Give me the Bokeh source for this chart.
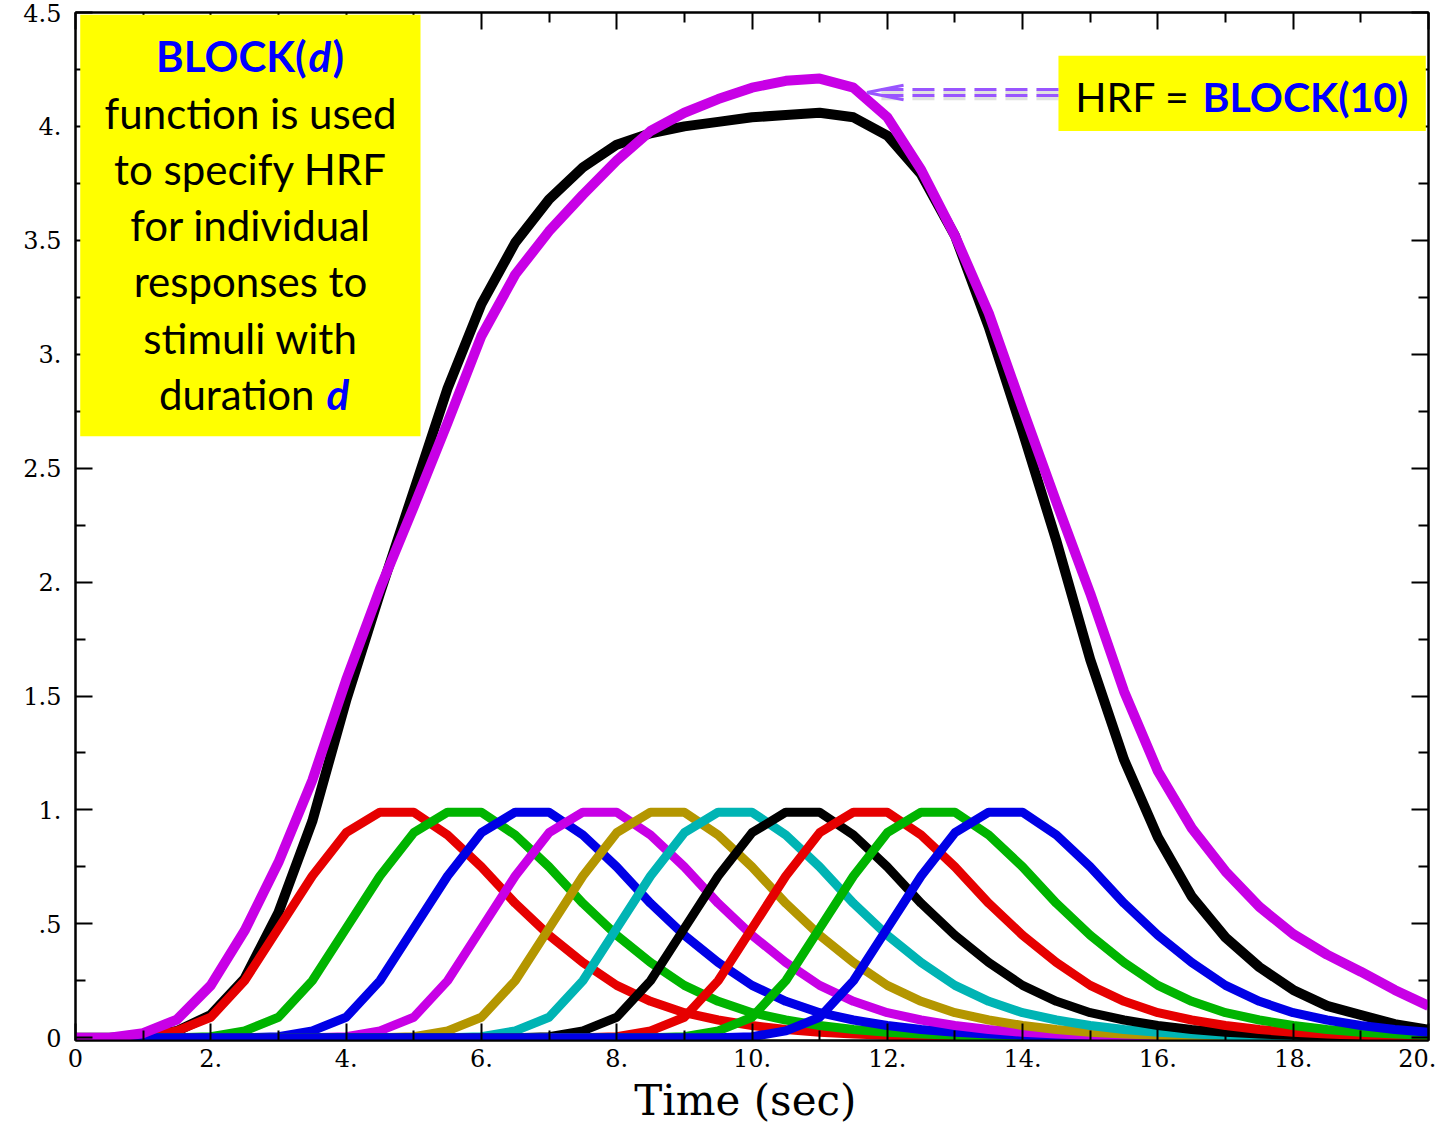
from bokeh.plotting import figure
from bokeh.models import (Range1d, FixedTicker, LinearAxis, Label, BoxAnnotation, Arrow)
from bokeh.embed import file_html
from bokeh.resources import INLINE

# ---------------- data ----------------
time_s = [0.0, 0.5, 1.0, 1.5, 2.0, 2.5, 3.0, 3.5, 4.0, 4.5, 5.0, 5.5, 6.0, 6.5, 7.0, 7.5,
          8.0, 8.5, 9.0, 9.5, 10.0, 10.5, 11.0, 11.5, 12.0, 12.5, 13.0, 13.5, 14.0, 14.5,
          15.0, 15.5, 16.0, 16.5, 17.0, 17.5, 18.0, 18.5, 19.0, 19.5, 20.0]

# BLOCK(1) response to a stimulus starting at t = 0
block1_response = [0.0, 0.0, 0.005, 0.03, 0.09, 0.25, 0.48, 0.71, 0.90, 0.99, 0.99, 0.89,
                   0.75, 0.59, 0.45, 0.33, 0.23, 0.16, 0.11, 0.078, 0.054, 0.036, 0.024,
                   0.016, 0.011, 0.007, 0.005, 0.003, 0.002, 0.001, 0.001, 0.0, 0.0, 0.0,
                   0.0, 0.0, 0.0, 0.0, 0.0, 0.0, 0.0]

# onsets (sec) of the ten 1-sec stimuli and their curve colours
stim_onsets = [0, 1, 2, 3, 4, 5, 6, 7, 8, 9]
stim_colors = ["#e60000", "#00b400", "#0000e6", "#c800e6", "#b49600",
               "#00b4b4", "#000000", "#e60000", "#00b400", "#0000e6"]

# sum of the individual responses (black)
sum_response = [0.0, 0.0, 0.005, 0.03, 0.10, 0.26, 0.55, 0.95, 1.48, 1.95, 2.40, 2.85,
                3.22, 3.49, 3.68, 3.82, 3.92, 3.97, 4.00, 4.02, 4.04, 4.05, 4.06, 4.04,
                3.96, 3.79, 3.52, 3.12, 2.66, 2.18, 1.66, 1.22, 0.88, 0.62, 0.44, 0.31,
                0.21, 0.14, 0.10, 0.06, 0.035]

# HRF = BLOCK(10) (magenta)
block10_response = [0.0, 0.0, 0.02, 0.08, 0.23, 0.47, 0.77, 1.13, 1.57, 1.97, 2.33, 2.70,
                    3.08, 3.35, 3.54, 3.70, 3.85, 3.98, 4.06, 4.12, 4.17, 4.20, 4.21, 4.17,
                    4.04, 3.81, 3.52, 3.18, 2.76, 2.35, 1.95, 1.52, 1.17, 0.92, 0.73, 0.575,
                    0.455, 0.365, 0.29, 0.21, 0.14]

x_ticks = [0, 2, 4, 6, 8, 10, 12, 14, 16, 18, 20]
x_tick_labels = ["0", "2.", "4.", "6.", "8.", "10.", "12.", "14.", "16.", "18.", "20."]
x_minor = [1, 3, 5, 7, 9, 11, 13, 15, 17, 19]
y_ticks = [0, 0.5, 1.0, 1.5, 2.0, 2.5, 3.0, 3.5, 4.0, 4.5]
y_tick_labels = ["0", ".5", "1.", "1.5", "2.", "2.5", "3.", "3.5", "4.", "4.5"]
y_minor = [0.25, 0.75, 1.25, 1.75, 2.25, 2.75, 3.25, 3.75, 4.25]

# ---------------- figure ----------------
p = figure(width=1436, height=1130, x_range=Range1d(0, 20), y_range=Range1d(-0.012, 4.5),
           output_backend="svg", toolbar_location=None,
           min_border_left=75, min_border_right=8, min_border_top=12, min_border_bottom=90)
p.grid.visible = False
p.outline_line_color = "black"
p.outline_line_width = 2
p.background_fill_color = "white"

SERIF = "DejaVu Serif"

def style_axis(ax, ticks, minor, labels=None):
    ax.ticker = FixedTicker(ticks=ticks, minor_ticks=minor)
    ax.major_tick_in = 17
    ax.major_tick_out = 0
    ax.minor_tick_in = 10
    ax.minor_tick_out = 0
    ax.major_tick_line_width = 2
    ax.minor_tick_line_width = 2
    ax.major_tick_line_color = "black"
    ax.minor_tick_line_color = "black"
    ax.axis_line_color = "black"
    ax.axis_line_width = 2
    if labels is None:
        ax.major_label_overrides = {t: "" for t in ticks}
        ax.major_label_standoff = 0
    else:
        ax.major_label_overrides = {t: l for t, l in zip(ticks, labels)}
        ax.major_label_text_font = SERIF
        ax.major_label_text_font_size = "24px"
        ax.major_label_text_color = "black"

style_axis(p.xaxis[0], x_ticks, x_minor, x_tick_labels)
style_axis(p.yaxis[0], y_ticks, y_minor, y_tick_labels)
p.xaxis[0].major_label_standoff = 8
p.yaxis[0].major_label_standoff = 14
p.xaxis[0].axis_label = "Time  (sec)"
p.xaxis[0].axis_label_text_font = SERIF
p.xaxis[0].axis_label_text_font_size = "42px"
p.xaxis[0].axis_label_text_font_style = "normal"
p.xaxis[0].axis_label_text_color = "black"
p.xaxis[0].axis_label_standoff = 6

top_ax = LinearAxis()
style_axis(top_ax, x_ticks, x_minor)
p.add_layout(top_ax, "above")
right_ax = LinearAxis()
style_axis(right_ax, y_ticks, y_minor)
p.add_layout(right_ax, "right")

# ---------------- curves ----------------
p.line(time_s, sum_response, line_color="#000000", line_width=10, line_join="round")

n = len(time_s)
for onset, col in zip(stim_onsets, stim_colors):
    shift = int(round(onset / 0.5))
    vals = [0.0] * shift + block1_response[: n - shift]
    p.line(time_s, vals, line_color=col, line_width=9, line_join="round")

p.line(time_s, block10_response, line_color="#c800e6", line_width=10, line_join="round")

# ---------------- annotations ----------------
YEL = "#ffff00"
BLUE = "#0000ff"
FONT = "Lato"
FS = "42px"

p.add_layout(BoxAnnotation(left=0.07, right=5.1, top=4.49, bottom=2.64,
                           fill_color=YEL, fill_alpha=1, line_alpha=0))
p.add_layout(BoxAnnotation(left=14.53, right=19.96, top=4.31, bottom=3.98,
                           fill_color=YEL, fill_alpha=1, line_alpha=0))

cx = 2.587
DY = 0.07
def lab(text, x, y, xo=0, align="center", color="black", style="normal", fs=FS):
    p.add_layout(Label(x=x, y=y + DY, x_offset=xo, text=text, text_font=FONT,
                       text_font_size=fs, text_font_style=style, text_color=color,
                       text_align=align, text_baseline="alphabetic"))

lab("BLOCK(", cx, 4.237, xo=56, align="right", color=BLUE, style="bold")
lab("d", cx, 4.237, xo=58, align="left", color=BLUE, style="bold italic")
lab(")", cx, 4.237, xo=82, align="left", color=BLUE, style="bold")
lab("function is used", cx, 3.991)
lab("to specify HRF", cx, 3.741)
lab("for individual", cx, 3.496)
lab("responses to", cx, 3.250)
lab("stimuli with", cx, 3.000)
lab("duration", cx, 2.754, xo=64, align="right")
lab("d", cx, 2.754, xo=76, align="left", color=BLUE, style="bold italic")

lab("HRF =", 16.47, 4.061, align="right", fs="41px")
lab("BLOCK(10)", 16.66, 4.061, align="left", color=BLUE, style="bold", fs="41px")

# double dashed arrow pointing at the BLOCK(10) peak
ARW = "#9955ff"
y_mid = 4.149
for dy in (0.013, -0.013):
    p.add_layout(Arrow(end=None, x_start=14.53, y_start=y_mid + dy - 0.012,
                       x_end=11.85, y_end=y_mid + dy - 0.012,
                       line_color="#888888", line_alpha=0.25, line_width=4,
                       line_dash="22 9"))
for dy in (0.013, -0.013):
    p.add_layout(Arrow(end=None, x_start=14.53, y_start=y_mid + dy,
                       x_end=11.85, y_end=y_mid + dy,
                       line_color=ARW, line_width=3, line_dash="22 9"))
for dy in (0.032, -0.032):
    p.add_layout(Arrow(end=None, x_start=11.70, y_start=y_mid,
                       x_end=12.24, y_end=y_mid + dy,
                       line_color=ARW, line_width=3))

open("out.html", "w").write(file_html(p, INLINE))
